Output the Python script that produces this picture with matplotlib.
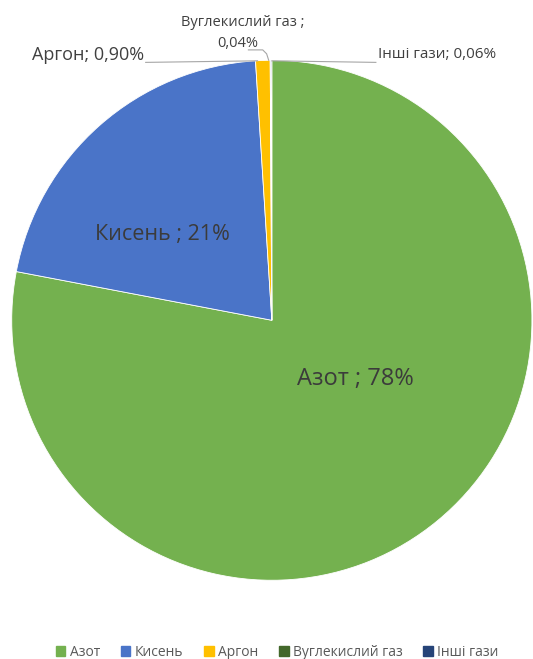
import matplotlib.pyplot as plt
import matplotlib.patches as mpatches

gases = ["Азот", "Кисень", "Аргон", "Вуглекислий газ", "Інші гази"]
shares = [78, 21, 0.90, 0.04, 0.06]
share_labels = ["78%", "21%", "0,90%", "0,04%", "0,06%"]
colors = ["#74b14f", "#4a74c8", "#ffc000", "#43682b", "#264478"]

plt.rcParams['font.family'] = ['Open Sans', 'DejaVu Sans']

fig = plt.figure(figsize=(5.33, 6.59), dpi=100)
ax = fig.add_axes([0.022, 0.1195, 0.976, 0.789])

wedges, _ = ax.pie(shares, colors=colors, startangle=90, counterclock=False,
                   wedgeprops=dict(linewidth=0.6, edgecolor="white"))
ax.set_xlim(-1, 1)
ax.set_ylim(-1, 1)
ax.set_aspect("auto")

txt = "#3b3b3b"
# labels inside the big wedges
ax.text(0.32, -0.225, f"{gases[0]} ; {share_labels[0]}", fontsize=17,
        color=txt, ha="center", va="center")
ax.text(-0.42, 0.33, f"{gases[1]} ; {share_labels[1]}", fontsize=15.5,
        color=txt, ha="center", va="center")

# outside labels with leader lines
line_c = "#a6a6a6"
ax.text(-0.49, 1.022, f"{gases[2]}; {share_labels[2]}", fontsize=13,
        color="#404040", ha="right", va="center", clip_on=False)
ax.plot([-0.485, -0.055], [0.992, 0.998], color=line_c, lw=0.8, clip_on=False)

ax.text(-0.11, 1.145, f"{gases[3]} ;", fontsize=10.5, color="#404040",
        ha="center", va="center", clip_on=False)
ax.text(-0.13, 1.065, share_labels[3], fontsize=10.5, color="#404040",
        ha="center", va="center", clip_on=False)
ax.plot([-0.09, -0.035, -0.02, -0.012], [1.04, 1.04, 1.025, 1.0],
        color=line_c, lw=0.8, clip_on=False)

ax.text(0.41, 1.022, f"{gases[4]}; {share_labels[4]}", fontsize=11,
        color="#404040", ha="left", va="center", clip_on=False)
ax.plot([0.0, 0.40], [0.998, 0.992], color=line_c, lw=0.8, clip_on=False)

handles = [mpatches.Patch(color=c, label=g) for c, g in zip(colors, gases)]
fig.legend(handles=handles, loc="center", bbox_to_anchor=(0.52, 0.0106),
           ncol=5, frameon=False, fontsize=10, handlelength=0.7,
           handleheight=0.7, handletextpad=0.3, columnspacing=1.5,
           labelcolor="#595959")

fig.savefig("out.png", dpi=100)
